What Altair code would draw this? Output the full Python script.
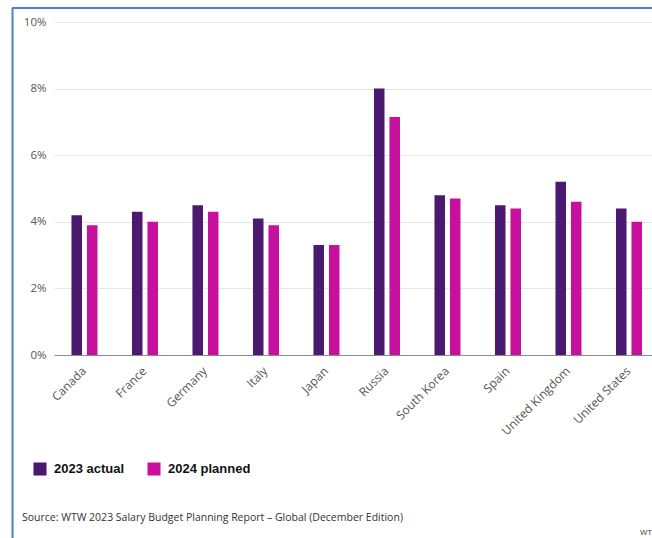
import altair as alt
import pandas as pd

countries = ["Canada", "France", "Germany", "Italy", "Japan", "Russia",
             "South Korea", "Spain", "United Kingdom", "United States"]
actual_2023 = [4.2, 4.3, 4.5, 4.1, 3.3, 8.0, 4.8, 4.5, 5.2, 4.4]
planned_2024 = [3.9, 4.0, 4.3, 3.9, 3.3, 7.15, 4.7, 4.4, 4.6, 4.0]
series_names = ["2023 actual", "2024 planned"]
series_colors = ["#4b1a70", "#c8109f"]
y_ticks = [0, 2, 4, 6, 8, 10]
source_text = "Source: WTW 2023 Salary Budget Planning Report – Global (December Edition)"

rows = []
for c, a, p in zip(countries, actual_2023, planned_2024):
    rows.append({"country": c, "series": series_names[0], "value": a})
    rows.append({"country": c, "series": series_names[1], "value": p})
df = pd.DataFrame(rows)

FONT = "Open Sans"

bars = alt.Chart(df).mark_bar().encode(
    x=alt.X("country:N", sort=countries, title=None,
            scale=alt.Scale(paddingInner=0.57, paddingOuter=0.227, align=0.636),
            axis=alt.Axis(labelAngle=-45, ticks=False, labelPadding=10, labelOffset=-4,
                          grid=False,
                          labelFontSize=12, labelColor="#555555", labelFont=FONT,
                          domainColor="#8a8a8a", domainWidth=1)),
    xOffset=alt.XOffset("series:N", sort=series_names,
                        scale=alt.Scale(paddingInner=0.32, paddingOuter=0)),
    y=alt.Y("value:Q", title=None,
            scale=alt.Scale(domain=[0, 10], nice=False),
            axis=alt.Axis(values=y_ticks, labelExpr="datum.value + '%'",
                          ticks=False, domain=False, labelPadding=8,
                          labelFontSize=11.5, labelColor="#555555", labelFont=FONT,
                          gridColor="#e6e6e6", gridWidth=1)),
    color=alt.Color("series:N", sort=series_names,
                    scale=alt.Scale(domain=series_names, range=series_colors),
                    legend=alt.Legend(title=None, orient="none", direction="horizontal",
                                      legendX=-21, legendY=440,
                                      symbolType="square", symbolSize=170,
                                      symbolStrokeWidth=0, symbolOpacity=1,
                                      labelFontSize=13, labelFontWeight="bold",
                                      labelFont="Liberation Sans", labelColor="#111111",
                                      labelOffset=7, columnPadding=22, padding=0)),
)

one = alt.Data(values=[{"k": 1}])

border_left = alt.Chart(one).mark_rule(color="#4a7fd6", strokeWidth=2).encode(
    x=alt.value(-41.5), y=alt.value(-14), y2=alt.value(520))
border_top = alt.Chart(one).mark_rule(color="#4a7fd6", strokeWidth=2).encode(
    x=alt.value(-42), x2=alt.value(600), y=alt.value(-14))

source = alt.Chart(one).mark_text(align="left", baseline="middle", fontSize=10.5,
                                  font=FONT, color="#333333").encode(
    x=alt.value(-32), y=alt.value(496), text=alt.value(source_text))
wtw = alt.Chart(one).mark_text(align="left", baseline="middle", fontSize=8,
                               font=FONT, color="#333333").encode(
    x=alt.value(586), y=alt.value(511), text=alt.value("WT"))

chart = alt.layer(bars, border_left, border_top, source, wtw).properties(
    width=598, height=333,
    autosize=alt.AutoSizeParams(type="none"),
    padding={"left": 54, "top": 22, "right": 0, "bottom": 183},
).configure(background="white").configure_view(strokeWidth=0, stroke="transparent")

chart.save("out.html", embed_options={"renderer": "svg", "actions": False})
